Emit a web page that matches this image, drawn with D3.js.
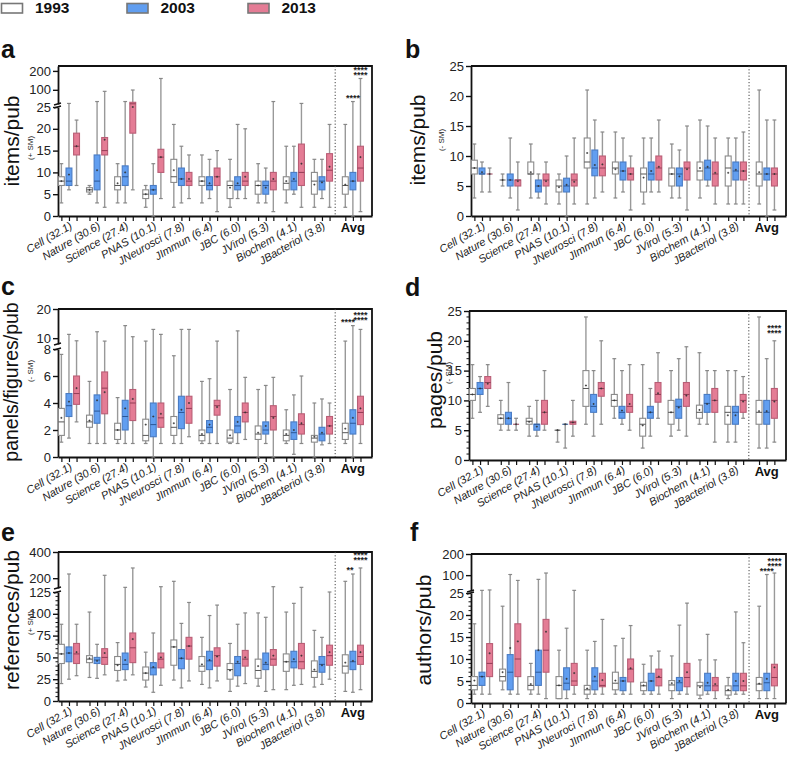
<!DOCTYPE html>
<html>
<head>
<meta charset="utf-8">
<script src="https://cdn.jsdelivr.net/npm/d3@7"></script>
<style>
  body { margin: 0; background: #fff; }
  svg { display: block; font-family: "Liberation Sans", Arial, Helvetica, sans-serif; }
</style>
</head>
<body>
<div class="canvas"></div>
<script>
const years = ["1993", "2003", "2013"];
const journals = ["Cell (32.1)", "Nature (30.6)", "Science (27.4)", "PNAS (10.1)", "JNeurosci (7.8)",
  "JImmun (6.4)", "JBC (6.0)", "JVirol (5.3)", "Biochem (4.1)", "JBacteriol (3.8)"];
// panel f prints "JNeuroci"
const journalsF = ["Cell (32.1)", "Nature (30.6)", "Science (27.4)", "PNAS (10.1)", "JNeuroci (7.8)",
  "JImmun (6.4)", "JBC (6.0)", "JVirol (5.3)", "Biochem (4.1)", "JBacteriol (3.8)"];
const avgLabel = "Avg";

// every row: [min, q1, median, q3, max, mean]; 10 journals then Avg
const itemsPlus1993 = [[3,7,8,9,12,8],[5,5.5,6,6.5,7,6],[3,6,7,9,12,7.5],[2,4,5,6,7,5],[2,7.7,9,13,21,10.5],
  [3,7,8,9,14,8],[2,4,7,8,13,6.5],[3,5,7,8,12,7],[3,6,7.5,9,16,8],[2,5,8,10,13,7.2],[2,5,7,9,21,7.2]];
const itemsPlus2003 = [[6,7,8,11,28,9.5],[3,6,8,14,38,10.5],[3,7,9,11.5,38,10],[0,5,6,7,12,6],[3,7,8.5,11,16,8.5],
  [4,6,7,9,13,7.5],[4,6,7,9,21,7.5],[3,5,7,8,11,6.5],[5,6,8,10,16,8.5],[4,6,8,9,13,7.7],[0,6,8,10,38,8]];
const itemsPlus2013 = [[7,14,16,19,22,16],[2,14,15,18,92,17.5],[6,19,26,34,99,25],[4,10,13.5,15.3,160,13.5],[4,7,8,10,14,8.5],
  [1,7,9,11,15,9],[4,7,8,10,20,9],[1,6,8,10,38,8.5],[2,7,10,16.5,28,12],[2,8,10.5,14.3,21,11.3],[1,8,11,16,160,13.5]];

const itemsMinus1993 = [[3,7,8,9.3,12,8],[5,6,6,6,7,6],[3,7,7,9,12,7.3],[2,4,5,6,7,4.8],[2,8,9,13,21,10.5],
  [3,7,8,9,14,7.8],[2,4,7,8,13,6.4],[3,5,7,8,12,7],[3,6,7.5,9,16,8],[2,5,8,10,13,7.2],[2,5,7,9,21,7.3]];
const itemsMinus2003 = [[4,7,7,8,9,7.3],[3,5,6,7,13,6],[3,4,5,6,7,5],[0,4,5,6.3,10,5.2],[3,6.7,8,11,16,8.5],
  [4,6,7.5,9,13,7.5],[4,6,7,9,13,7.5],[3,5,7,8,11,6.6],[5,6,8,9.3,15,8.2],[2,6,7.5,9,13,7.7],[0,6,7,8,16,7]];
const itemsMinus2013 = [[4,7,7,7,8,7],[1,5,6,6,9,5.8],[2,5,6,7,9,5.8],[2,5,6,7,13,5.7],[4,6.7,8,10,14,8.6],
  [1,6,7,8,10,7],[4,6,8,10,16,8.2],[1,6,8,9,15,7.8],[2,5,7,9,13,7.2],[2,6,7.5,9,14,7.5],[1,5,7,8,16,7]];

const panelsMinus1993 = [[1.1,1.6,2.6,3.6,7.6,2.9],[1,2.2,2.6,3.1,5.6,2.7],[1,1.3,2,2.5,4.4,2],[1,1.2,1.6,2.8,9,2.4],[1,1.6,2.2,3,7.5,2.5],
  [1,1.2,1.6,2,5.6,1.7],[1,1.1,1.4,2,5,1.6],[0,1.3,1.7,2.3,5,1.8],[1,1.2,1.6,2,3.5,1.7],[0,1.1,1.4,1.6,4,1.5],[1,1.3,1.8,2.5,9,2.1]];
const panelsMinus2003 = [[1.4,3,3.8,4.7,11.3,4.1],[1,2.5,3.4,4.6,12.2,4.2],[1,2,3,4.2,14.3,3.6],[0,1.5,2.4,4,13,3],[1,2.1,3.3,4.5,13,3.5],
  [1,1.8,2.2,2.7,5.8,2.4],[1,1.8,2.3,3,12.5,2.6],[1,1.7,2,2.6,5.3,2.3],[0.2,1.3,1.8,2.6,4.6,2],[0.9,1.2,1.7,2.2,4.3,1.8],[0,1.7,2.5,3.5,14.3,2.9]];
const panelsMinus2013 = [[2.6,3.9,4.7,6,9.1,5.1],[1,3.2,5.1,6.3,9,4.8],[1,2.7,4,5,10.5,4.3],[1,2.2,2.9,4,11.3,3.2],[1.5,2.5,3.6,4.5,13,4],
  [1,3.1,3.8,4.2,9,3.7],[1.3,2.6,3.3,4,5.9,3.3],[0,2,3,3.8,5.9,2.9],[1,1.7,2.4,3.2,6,2.5],[1,1.7,2.3,3,4,2.3],[1,2.4,3.3,4.5,13,3.6]];

const pagesMinus1993 = [[7,10,11,12,16,11],[5,6,7,7.6,10,7],[4,6,6.5,7,9,6.4],[3,5,5,5,5,5],[6,9,12,15,24,12.5],
  [7,9,10,11,17,10],[2,4,6,7,16,5.8],[4,6,8,10,15,8],[6,7,8,9.2,18,8.4],[3,6,8,9,15,7.5],[2,6,8,10,24,8.2]];
const pagesMinus2003 = [[8,11,12,13,14,12],[5,6,7,8,13,7],[4,5,6,6,10,5.6],[2,6,6,6,6,6],[4,8,9,11,15,9.4],
  [6,7,8,9,15,8.3],[4,7,8,9,12,8],[5,7,9,10.2,17,8.8],[6,8,9.5,11,15,9.4],[3,6,8,9,15,7.5],[2,6,8,10,17,8.2]];
const pagesMinus2013 = [[9,12,13,14,16,12.8],[5,6,6,6,7,6],[5,6,8,10,15,8],[4,6,6.3,6.5,10,6.3],[6,10.7,12,13,20,12],
  [5,8,9,11,16,9.4],[7,9.7,11,13,18,11.2],[4,9,11,13,19,10.8],[3,8,10,12,15,10],[7,8,10,11,14,9.8],[3,7,10,12,20,9.8]];

const refsPlus1993 = [[20,43,54,65,88,54],[27,44,48,52,102,49],[23,35,42,51,67,41],[16,24,32,39,56,32],[24,41,62,70,176,62],
  [19,34,40,51,73,42],[11,25,36,43,66,35],[17,26,35,48,101,40],[13,34,45,54,102,45],[16,27,34,46,81,36],[11,32,40,53,176,44]];
const refsPlus2003 = [[25,45,55,62,232,55],[26,43,47,50,65,46],[24,36,42,55,130,47],[10,30,38,44,78,39],[15,37,49,59,89,49],
  [15,36,46,57,98,47],[17,29,43,51,88,45],[11,36,42,55,96,44],[18,38,45,57,112,48],[19,33,42,51,73,41],[10,36,45,57,232,46]];
const refsPlus2013 = [[29,43,54,66,88,56],[30,42,50,60,222,55],[30,44,61,78,278,71],[18,38,48,55,135,50],[23,48,63,73,113,63],
  [23,40,52,61,110,51],[20,40,48,58,101,50],[13,41,48,59,135,52],[19,37,45,66,130,52],[25,41,52,64,125,56],[13,42,51,64,278,56]];

const authors1993 = [[2,3,4,6,18,5.1],[3,5,6,7.7,22,7],[2,3,4,6,9,4.3],[1,1,4,6,12,4],[1,2,3,4,12,3.3],
  [2,3,4.5,7,13,5.1],[2,2.8,3.9,4.7,8.8,4],[1,2.8,4.1,5.1,10.7,4.5],[1,1.8,3.9,4.7,9.8,3.6],[1,1.8,2.8,3.9,5.8,3],[1,2.8,4.3,5.8,22,4.4]];
const authors2003 = [[2,4,6,7,28,6],[2,3,7,11,103,12.5],[2,4,7,12,80,12],[1,3,4.5,8,17,5.5],[2,3,5,8,14,6],
  [2,2.8,5,5.8,14.7,5],[2,2.8,5,6.75,10.7,5],[2,2.8,4.6,5.8,17.7,5],[2,2.8,3.9,6.75,15.6,4.6],[2,2.8,3.9,6.75,20.7,5],[1,2.8,4.6,6.75,103,5.5]];
const authors2013 = [[2,6,9,13.5,30,11.3],[2,6,10,18,75,14],[1,7,12,19,110,16.2],[2,4,5,9,28,6.8],[2,3.7,4,6.75,19,5.2],
  [2,4.8,7.7,10,17.6,7.9],[2,3.9,5.8,7.7,11.8,6],[2,3.7,5.8,9,22.7,7],[1,2.8,3.9,5.8,9.8,4.3],[2,2.8,3.9,6.75,13.7,5],[1,3.9,5.8,8.8,110,8.1]];

const yearFill = ["#ffffff", "#619ef0", "#e47c95"];
const yearStroke = ["#8a8a8a", "#4a7cc4", "#b95e76"];
const yearMedian = ["#555555", "#2c5796", "#933c55"];

// slot positions: journals 0..9, Avg a bit after the dotted divider
const groupPos = [...d3.range(10), 10.1];
const yearOffset = [-0.27, 0, 0.27];

const panels = [
  { letter: "a", lx: 1, ly: 58, title: "items/pub", sub: "(+ SM)", tx: 19, ty: 141, sx: 33, sy: 148, tsize: 21,
    left: 58, right: 372, top: 66, bottom: 216,
    lower: { dom: [0, 25], rng: [216, 107], ticks: [0, 5, 10, 15, 20, 25] },
    upper: { dom: [25, 226], rng: [104, 66], ticks: [100, 200] },
    data: [itemsPlus1993, itemsPlus2003, itemsPlus2013], labels: journals,
    stars: [{ year: 1, lines: ["****"] }, { year: 2, lines: ["****", "****"] }] },
  { letter: "b", lx: 405, ly: 58, title: "items/pub", sub: "(- SM)", tx: 425, ty: 140, sx: 444, sy: 140, tsize: 21,
    left: 471, right: 786, top: 66, bottom: 216,
    lower: { dom: [0, 25], rng: [216, 66], ticks: [0, 5, 10, 15, 20, 25] },
    data: [itemsMinus1993, itemsMinus2003, itemsMinus2013], labels: journals, stars: [] },
  { letter: "c", lx: 1, ly: 295, title: "panels/figures/pub", sub: "(- SM)", tx: 18, ty: 382, sx: 33, sy: 371, tsize: 19.5,
    left: 58, right: 372, top: 309, bottom: 457,
    lower: { dom: [0, 8], rng: [457, 349], ticks: [0, 2, 4, 6, 8] },
    upper: { dom: [8, 20], rng: [344, 309], ticks: [10, 20] },
    data: [panelsMinus1993, panelsMinus2003, panelsMinus2013], labels: journals,
    stars: [{ year: 1, lines: ["****"], dx: -5 }, { year: 2, lines: ["****", "****"], dy: -6 }] },
  { letter: "d", lx: 405, ly: 296, title: "pages/pub", sub: "(- SM)", tx: 442, ty: 380, sx: 451, sy: 373, tsize: 21,
    left: 469, right: 786, top: 311, bottom: 460,
    lower: { dom: [0, 25], rng: [460, 311], ticks: [0, 5, 10, 15, 20, 25], minor: 1 },
    data: [pagesMinus1993, pagesMinus2003, pagesMinus2013], labels: journals,
    stars: [{ year: 2, lines: ["****", "****"], dy: -4 }] },
  { letter: "e", lx: 1, ly: 541, title: "references/pub", sub: "(+ SM)", tx: 19, ty: 620, sx: 33, sy: 623, tsize: 21,
    left: 58, right: 372, top: 552, bottom: 701,
    lower: { dom: [0, 125], rng: [701, 592], ticks: [0, 25, 50, 75, 100, 125], minor: 5 },
    upper: { dom: [125, 400], rng: [588, 552], ticks: [200, 400] },
    data: [refsPlus1993, refsPlus2003, refsPlus2013], labels: journals,
    stars: [{ year: 1, lines: ["**"], dx: -3 }, { year: 2, lines: ["****", "****"], dy: -4 }] },
  { letter: "f", lx: 410, ly: 541, title: "authors/pub", sub: null, tx: 431, ty: 630, tsize: 21,
    left: 471, right: 786, top: 554, bottom: 703,
    lower: { dom: [0, 25], rng: [703, 593], ticks: [0, 5, 10, 15, 20, 25], minor: 1 },
    upper: { dom: [25, 200], rng: [591, 554], ticks: [100, 200] },
    data: [authors1993, authors2003, authors2013], labels: journalsF,
    stars: [{ year: 1, lines: ["****"] }, { year: 2, lines: ["****", "****"], dy: -4 }] }
];

const svg = d3.select(".canvas").append("svg")
  .attr("width", 787)
  .attr("height", 757);

// legend
const legX = [1.5, 127, 248];
years.forEach((yr, i) => {
  svg.append("rect").attr("x", legX[i]).attr("y", 3.5).attr("width", 21).attr("height", 9.5)
    .attr("fill", yearFill[i]).attr("stroke", "#777").attr("stroke-width", 1.6);
  svg.append("text").attr("x", legX[i] + 33.5).attr("y", 13).text(yr)
    .style("font-size", "15.5px").style("font-weight", "bold").attr("fill", "#111");
});

function drawPanel(p) {
  const g = svg.append("g");
  const xs = d3.scaleLinear().domain([-0.39, 10.78]).range([p.left, p.right]);
  const lo = d3.scaleLinear().domain(p.lower.dom).range(p.lower.rng);
  const hi = p.upper ? d3.scaleLinear().domain(p.upper.dom).range(p.upper.rng) : null;
  const y = v => (hi && v > p.lower.dom[1]) ? hi(v) : lo(v);
  const bw = xs(0.21) - xs(0);

  // panel letter + titles
  g.append("text").attr("x", p.lx).attr("y", p.ly).text(p.letter)
    .style("font-size", "25px").style("font-weight", "bold").attr("fill", "#111");
  g.append("text").attr("transform", `translate(${p.tx},${p.ty}) rotate(-90)`)
    .attr("text-anchor", "middle").text(p.title).style("font-size", p.tsize + "px").attr("fill", "#111");
  if (p.sub) {
    g.append("text").attr("transform", `translate(${p.sx},${p.sy}) rotate(-90)`)
      .attr("text-anchor", "middle").text(p.sub).style("font-size", "8px").attr("fill", "#222");
  }

  // y axis segments
  const segs = [[lo, p.lower]];
  if (hi) segs.push([hi, p.upper]);
  segs.forEach(([s, cfg]) => {
    const ax = g.append("g").attr("transform", `translate(${p.left},0)`)
      .call(d3.axisLeft(s).tickValues(cfg.ticks).tickSize(5).tickSizeOuter(0).tickPadding(2));
    ax.select(".domain").attr("stroke", "#111").attr("stroke-width", 1.8);
    ax.selectAll(".tick line").attr("stroke", "#111").attr("stroke-width", 1.4);
    ax.selectAll(".tick text").style("font-size", "13px").attr("fill", "#222")
      .style("font-family", "'Liberation Sans', Arial, sans-serif");
    if (cfg.minor) {
      const minors = d3.range(cfg.dom[0], cfg.dom[1] + 1e-9, cfg.minor).filter(v => !cfg.ticks.includes(v));
      g.append("g").selectAll("line").data(minors).join("line")
        .attr("x1", p.left - 2.5).attr("x2", p.left).attr("y1", d => s(d)).attr("y2", d => s(d))
        .attr("stroke", "#111").attr("stroke-width", 1);
    }
  });
  if (hi) {
    // break marks
    [p.lower.rng[1], p.upper.rng[0]].forEach(yb => {
      g.append("line").attr("x1", p.left - 4).attr("x2", p.left + 3)
        .attr("y1", yb + 1).attr("y2", yb - 1).attr("stroke", "#111").attr("stroke-width", 1.4);
    });
  }

  // x axis with a tick under every box
  const boxPos = groupPos.flatMap(c => yearOffset.map(o => c + o));
  const xa = g.append("g").attr("transform", `translate(0,${p.bottom})`)
    .call(d3.axisBottom(xs).tickValues(boxPos).tickFormat("").tickSize(5).tickSizeOuter(0));
  xa.select(".domain").attr("stroke", "#111").attr("stroke-width", 1.8);
  xa.selectAll(".tick line").attr("stroke", "#111").attr("stroke-width", 1.2);

  // frame top + right
  g.append("path").attr("d", `M${p.left},${p.top}H${p.right}V${p.bottom}`)
    .attr("fill", "none").attr("stroke", "#111").attr("stroke-width", 1.8);

  // dotted divider before Avg
  g.append("line").attr("x1", xs(9.47)).attr("x2", xs(9.47)).attr("y1", p.top).attr("y2", p.bottom)
    .attr("stroke", "#444").attr("stroke-width", 1).attr("stroke-dasharray", "1.2,2");

  // boxes
  p.data.forEach((rows, yi) => {
    rows.forEach((d, ci) => {
      const cx = xs(groupPos[ci] + yearOffset[yi]);
      const [mn, q1, md, q3, mx, mean] = d;
      const bx = g.append("g");
      bx.append("line").attr("x1", cx).attr("x2", cx).attr("y1", y(mn)).attr("y2", y(mx))
        .attr("stroke", "#999").attr("stroke-width", 1.4);
      [mn, mx].forEach(v => {
        bx.append("line").attr("x1", cx - bw * 0.32).attr("x2", cx + bw * 0.32)
          .attr("y1", y(v)).attr("y2", y(v)).attr("stroke", "#888").attr("stroke-width", 1.2);
      });
      bx.append("rect").attr("x", cx - bw / 2).attr("width", bw)
        .attr("y", y(q3)).attr("height", Math.max(0, y(q1) - y(q3)))
        .attr("fill", yearFill[yi]).attr("stroke", yearStroke[yi]).attr("stroke-width", 1.1);
      bx.append("line").attr("x1", cx - bw / 2).attr("x2", cx + bw / 2)
        .attr("y1", y(md)).attr("y2", y(md)).attr("stroke", yearMedian[yi]).attr("stroke-width", 1);
      bx.append("path").attr("d", `M${cx - 1},${y(mean)}h2M${cx},${y(mean) - 1}v2`)
        .attr("stroke", "#333").attr("stroke-width", 0.8);
    });
  });

  // journal labels
  g.append("g").selectAll("text").data(p.labels).join("text")
    .attr("transform", (d, i) => `translate(${xs(i) + 4},${p.bottom + 12}) rotate(-30)`)
    .attr("text-anchor", "end").text(d => d)
    .style("font-size", "11px").style("font-style", "italic").attr("fill", "#222");
  g.append("text").attr("x", xs(groupPos[10])).attr("y", p.bottom + 16)
    .attr("text-anchor", "middle").text(avgLabel)
    .style("font-size", "13px").style("font-weight", "bold").attr("fill", "#111");

  // significance stars above the Avg whiskers (stacked rows in one text element)
  p.stars.forEach(s => {
    const cx = xs(groupPos[10] + yearOffset[s.year]) + (s.dx || 0);
    const capY = y(p.data[s.year][10][4]) + (s.dy || 0);
    const n = s.lines.length;
    const t = g.append("text").attr("text-anchor", "middle")
      .style("font-size", "9px").style("font-weight", "bold").attr("fill", "#222");
    s.lines.forEach((line, k) => {
      t.append("tspan").attr("x", cx).attr("y", capY - 0.5 - (n - 1 - k) * 5).text(line);
    });
  });
}

panels.forEach(drawPanel);
</script>
</body>
</html>
